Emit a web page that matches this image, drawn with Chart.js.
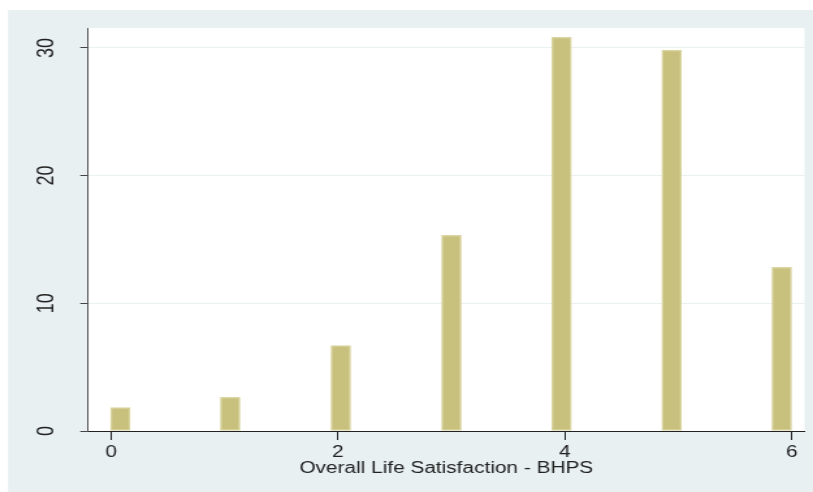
<!DOCTYPE html>
<html>
<head>
<meta charset="utf-8">
<script src="https://cdn.jsdelivr.net/npm/chart.js@4/dist/chart.umd.min.js"></script>
<style>
  html, body { margin: 0; padding: 0; background: #fff; overflow: hidden; }
  /* the graph is laid out at 625px and widened to the 813px window */
  #wrap { position: absolute; left: 0; top: 0; width: 625px; height: 492px;
          transform: scaleX(1.3008); transform-origin: 0 0; }
</style>
</head>
<body>
<div id="wrap"><canvas id="c"></canvas></div>
<script>
// Overall life satisfaction (BHPS): percent of respondents at each score
const satisfactionScores = [0, 1, 2, 3, 4, 5, 6];
const binCenters = [0.082, 1.05, 2.025, 3.0, 3.971, 4.941, 5.912];
const percents = [1.83, 2.64, 6.68, 15.33, 30.83, 29.84, 12.82];
const xTickValues = [0, 2, 4, 6];
const yTickValues = [0, 10, 20, 30];
const xTitle = 'Overall Life Satisfaction - BHPS';

const REGION = '#E8F0F2';
const FONT = '"Liberation Sans", Arial, Helvetica, sans-serif';

const backdrop = {
  id: 'backdrop',
  beforeDraw(chart) {
    const { ctx, chartArea: a, width, height } = chart;
    ctx.save();
    ctx.fillStyle = '#fff';
    ctx.fillRect(0, 0, width, height);
    ctx.fillStyle = REGION;
    ctx.fillRect(6.2, 10, width - 6.2, height - 10);
    ctx.fillStyle = '#fff';
    ctx.fillRect(a.left, a.top, a.right - a.left, a.bottom - a.top);
    ctx.restore();
  }
};

new Chart(document.getElementById('c'), {
  type: 'bar',
  data: {
    datasets: [{
      label: 'Percent',
      data: binCenters.map((x, i) => ({ x, y: percents[i], score: satisfactionScores[i] })),
      backgroundColor: '#C8C07D',
      borderColor: '#DAD4A0',
      borderWidth: 1.5,
      borderSkipped: false,
      barThickness: 15
    }]
  },
  options: {
    responsive: true,
    maintainAspectRatio: false,
    animation: false,
    devicePixelRatio: 1,
    layout: { padding: { left: 0, top: 28, right: 6.5, bottom: 0 } },
    plugins: { legend: { display: false }, tooltip: { enabled: false } },
    scales: {
      x: {
        type: 'linear',
        min: -0.203,
        max: 6.113,
        offset: false,
        afterBuildTicks: s => { s.ticks = xTickValues.map(v => ({ value: v })); },
        afterFit: s => { s.height = 61; },
        grid: { drawOnChartArea: false, offset: false, tickLength: 9, tickColor: '#222', tickWidth: 1 },
        border: { color: '#222', width: 1 },
        ticks: { font: { family: FONT, size: 16 }, color: '#222', padding: 3, maxRotation: 0, autoSkip: false },
        title: {
          display: true, text: xTitle, color: '#222',
          font: { family: FONT, size: 16 }, padding: { top: 0, bottom: 14 }
        }
      },
      y: {
        min: 0,
        max: 31.56,
        afterBuildTicks: s => { s.ticks = yTickValues.map(v => ({ value: v })); },
        afterFit: s => { s.width = 67.7; },
        grid: {
          color: c => (c.tick && c.tick.value === 0) ? 'rgba(0,0,0,0)' : REGION,
          lineWidth: 1, tickLength: 6, tickColor: '#444'
        },
        border: { color: '#555', width: 1 },
        ticks: {
          font: { family: FONT, size: 18 }, color: '#222',
          minRotation: 90, maxRotation: 90, crossAlign: 'center', padding: 15.5
        }
      }
    }
  },
  plugins: [backdrop]
});
</script>
</body>
</html>
